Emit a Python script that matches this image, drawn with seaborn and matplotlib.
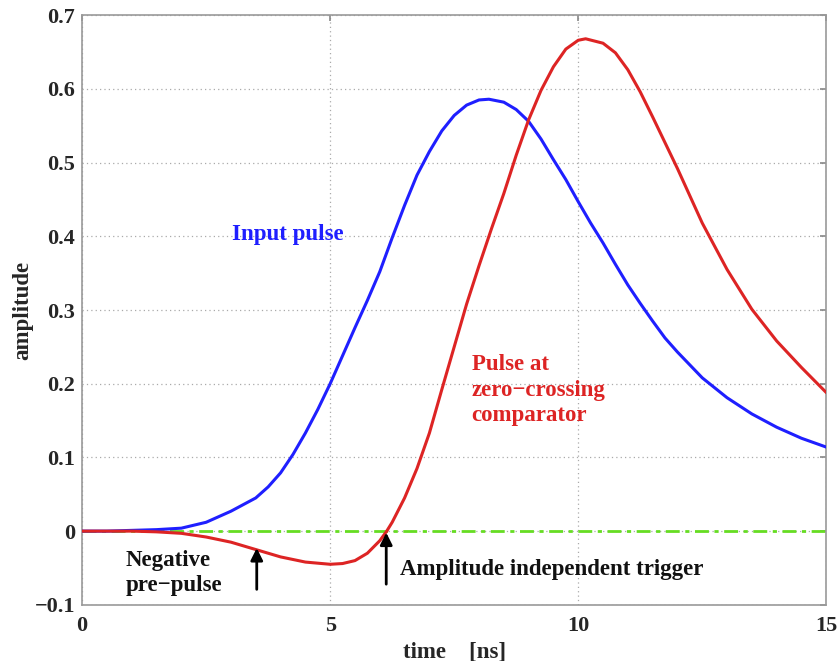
import numpy as np
import pandas as pd
import matplotlib
matplotlib.use("Agg")
import matplotlib.pyplot as plt
import seaborn as sns

# --- data ---
t_input = [0, 0.5, 1, 1.5, 2, 2.5, 3, 3.5, 3.75, 4, 4.25, 4.5, 4.75, 5, 5.25, 5.5,
           5.75, 6, 6.25, 6.5, 6.75, 7, 7.25, 7.5, 7.75, 8, 8.2, 8.5, 8.75, 9, 9.25,
           9.5, 9.75, 10, 10.25, 10.5, 10.75, 11, 11.25, 11.5, 11.75, 12, 12.5, 13,
           13.5, 14, 14.5, 15]
amp_input = [0.000, 0.000, 0.001, 0.002, 0.004, 0.012, 0.027, 0.045, 0.060, 0.079,
             0.104, 0.133, 0.165, 0.200, 0.238, 0.276, 0.313, 0.352, 0.398, 0.442,
             0.483, 0.515, 0.543, 0.564, 0.578, 0.585, 0.586, 0.582, 0.572, 0.556,
             0.532, 0.504, 0.477, 0.447, 0.418, 0.391, 0.362, 0.334, 0.309, 0.285,
             0.262, 0.243, 0.208, 0.181, 0.159, 0.141, 0.126, 0.114]

t_zc = [0, 1, 1.5, 2, 2.5, 3, 3.5, 4, 4.5, 5, 5.25, 5.5, 5.75, 6, 6.14, 6.25, 6.5,
        6.75, 7, 7.25, 7.5, 7.75, 8, 8.25, 8.5, 8.75, 9, 9.25, 9.5, 9.75, 10, 10.15,
        10.5, 10.75, 11, 11.25, 11.5, 11.75, 12, 12.5, 13, 13.5, 14, 14.5, 15]
amp_zc = [0.000, -0.000, -0.001, -0.003, -0.008, -0.015, -0.025, -0.035, -0.042,
          -0.045, -0.044, -0.040, -0.030, -0.013, 0.000, 0.012, 0.045, 0.085, 0.133,
          0.192, 0.250, 0.308, 0.360, 0.410, 0.458, 0.510, 0.558, 0.598, 0.630,
          0.654, 0.666, 0.668, 0.662, 0.649, 0.626, 0.596, 0.562, 0.527, 0.492,
          0.418, 0.355, 0.301, 0.258, 0.222, 0.188]

t_base = [0, 15]
amp_base = [0, 0]

x_ticks = [0, 5, 10, 15]
y_ticks = [-0.1, 0, 0.1, 0.2, 0.3, 0.4, 0.5, 0.6, 0.7]
y_tick_labels = ["\u22120.1", "0", "0.1", "0.2", "0.3", "0.4", "0.5", "0.6", "0.7"]

arrow_neg = (3.52, -0.079, -0.023)    # x, tail y, head y
arrow_trig = (6.13, -0.072, -0.002)

sns.set_theme(style="white")
plt.rcParams["font.family"] = ["Liberation Serif", "DejaVu Serif"]
plt.rcParams["font.weight"] = "bold"

FS = 16.5

fig = plt.figure(figsize=(8.38, 6.61), dpi=100)
ax = fig.add_axes([0.098, 0.085, 0.888, 0.892])

df_in = pd.DataFrame({"time": t_input, "amp": amp_input})
df_zc = pd.DataFrame({"time": t_zc, "amp": amp_zc})
df_b = pd.DataFrame({"time": t_base, "amp": amp_base})

sns.lineplot(data=df_b, x="time", y="amp", ax=ax, color="#66dd22", lw=2.0,
             linestyle=(0, (5, 2, 1.5, 2)), zorder=2)
sns.lineplot(data=df_in, x="time", y="amp", ax=ax, color="#1f1fff", lw=2.2, zorder=3)
sns.lineplot(data=df_zc, x="time", y="amp", ax=ax, color="#dd2424", lw=2.2, zorder=4)

ax.set_xlim(0, 15)
ax.set_ylim(-0.1, 0.7)
ax.set_xticks(x_ticks)
ax.set_xticklabels([str(v) for v in x_ticks])
ax.set_yticks(y_ticks)
ax.set_yticklabels(y_tick_labels)
ax.grid(True, linestyle=(0, (1, 2.5)), color="#aaaaaa", lw=0.9)
for s in ax.spines.values():
    s.set_color("#999999")
    s.set_linewidth(1.2)
ax.tick_params(axis="both", direction="in", length=4, color="#888888", width=1.2,
               labelsize=16, top=True, right=True)
ax.tick_params(axis="y", pad=5)
ax.tick_params(axis="x", pad=8)
for lab in ax.get_xticklabels() + ax.get_yticklabels():
    lab.set_fontweight("bold")

ax.set_xlabel("time    [ns]", fontsize=FS, fontweight="bold", labelpad=4)
ax.set_ylabel("amplitude", fontsize=FS, fontweight="bold")
ax.yaxis.set_label_coords(-0.066, 0.5)

ax.text(3.02, 0.403, "Input pulse", color="#1f1fff", fontsize=FS, fontweight="bold",
        ha="left", va="center")
ax.text(7.85, 0.24, "Pulse at\nzero\u2212crossing\ncomparator", color="#dd2424",
        fontsize=FS, fontweight="bold", ha="left", va="top", linespacing=1.27)
ax.text(0.88, -0.057, "Negative\npre\u2212pulse", color="#111111", fontsize=FS,
        fontweight="bold", ha="left", va="center", linespacing=1.22)
ax.text(6.4, -0.052, "Amplitude independent trigger", color="#111111", fontsize=FS,
        fontweight="bold", ha="left", va="center")

for (x, y0, y1) in (arrow_neg, arrow_trig):
    ax.annotate("", xy=(x, y1), xytext=(x, y0),
                arrowprops=dict(arrowstyle="-|>", color="black", lw=2,
                                mutation_scale=18, shrinkA=0, shrinkB=0),
                zorder=5)

fig.savefig("out.png", dpi=100)
